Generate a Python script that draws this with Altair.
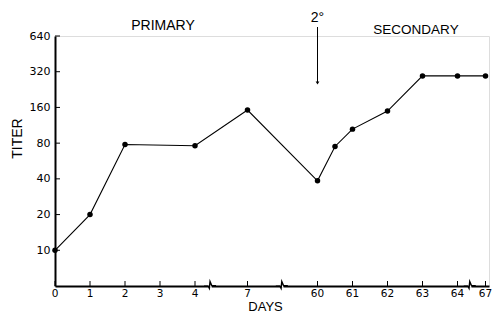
import altair as alt
import pandas as pd
import numpy as np

# broken-axis: day labels and their slot along the axis
axis_days = [0, 1, 2, 3, 4, 7, 60, 61, 62, 63, 64, 67]
axis_slots = [0, 1, 2, 3, 4, 5.5, 7.5, 8.5, 9.5, 10.5, 11.5, 12.3]
break_slots = [4.43, 6.48, 11.85]

# measured titers
days = [0, 1, 2, 4, 7, 60, 60.5, 61, 62, 63, 64, 67]
titer = [10, 20, 78, 76, 152, 38.5, 75, 105, 149, 295, 295, 295]

y_ticks = [10, 20, 40, 80, 160, 320, 640]

W, H = 434, 250
FONT = "Liberation Sans"
LFONT = "DejaVu Sans"

slot_of = dict(zip(axis_days, axis_slots))
def to_slot(d):
    if d in slot_of:
        return slot_of[d]
    return float(np.interp(d, axis_days[6:], axis_slots[6:]))

df = pd.DataFrame({"slot": [to_slot(d) for d in days], "titer": titer})
ticks_df = pd.DataFrame({"slot": axis_slots, "label": [str(d) for d in axis_days]})
yt_df = pd.DataFrame({"v": y_ticks})
br_df = pd.DataFrame({"slot": break_slots})

xs = alt.Scale(domain=[0, 12.4], nice=False, zero=False)
ys = alt.Scale(type="log", base=2, domain=[5, 640], nice=False)

base = alt.Chart(df)

line = base.mark_line(color="black", strokeWidth=1.1).encode(
    x=alt.X("slot:Q", scale=xs,
            axis=alt.Axis(title="DAYS", labels=False, ticks=False, grid=False,
                          domainColor="black", domainWidth=2,
                          titleFont=FONT, titleFontSize=13, titleFontWeight="normal",
                          titleX=210, titleY=27, titleBaseline="bottom", titleColor="black")),
    y=alt.Y("titer:Q", scale=ys,
            axis=alt.Axis(title="TITER", values=y_ticks, format="d", ticks=False, tickSize=0,
                          grid=False, labelPadding=5, domainColor="black", domainWidth=2,
                          labelFont=LFONT, labelFontSize=11, labelColor="black",
                          titleFont=FONT, titleFontSize=14, titleFontWeight="normal",
                          titleX=-31, titleY=102, titleBaseline="bottom", titleColor="black")),
)
pts = base.mark_point(filled=True, color="black", size=30, opacity=1).encode(
    x=alt.X("slot:Q", scale=xs), y=alt.Y("titer:Q", scale=ys))

ytick = alt.Chart(yt_df).mark_rule(color="black", strokeWidth=1).encode(
    x=alt.value(0), x2=alt.value(5), y=alt.Y("v:Q", scale=ys))

xtick = alt.Chart(ticks_df).mark_rule(color="black", strokeWidth=1).encode(
    x=alt.X("slot:Q", scale=xs), y=alt.value(H), y2=alt.value(H - 5))

xlab = alt.Chart(ticks_df).mark_text(font=LFONT, fontSize=10.5, baseline="top", color="black").encode(
    x=alt.X("slot:Q", scale=xs), y=alt.value(H + 3), text="label:N")

gap = alt.Chart(br_df).mark_point(
    shape="M-0.3,-0.3 L0.3,-0.3 L0.3,0.3 L-0.3,0.3 Z", filled=True, color="white", opacity=1, size=144
).encode(x=alt.X("slot:Q", scale=xs), y=alt.value(H))

zig = alt.Chart(br_df).mark_point(
    shape="M-1,0.05 L-0.3,0.05 L-0.12,0.4 L0,-0.75 L0.3,-0.05 L1,-0.05", filled=False, color="black",
    strokeWidth=1.4, opacity=1, size=144
).encode(x=alt.X("slot:Q", scale=xs), y=alt.value(H))

arrow_df = pd.DataFrame({"slot": [to_slot(60)]})
arrow = alt.Chart(arrow_df).mark_rule(color="black", strokeWidth=1).encode(
    x=alt.X("slot:Q", scale=xs), y=alt.value(-9), y2=alt.value(47))
head = alt.Chart(arrow_df).mark_point(shape="triangle-down", filled=True, color="black",
                                      opacity=1, size=14).encode(
    x=alt.X("slot:Q", scale=xs), y=alt.value(47))
deg = alt.Chart(arrow_df).mark_text(font=FONT, fontSize=14, color="black").encode(
    x=alt.X("slot:Q", scale=xs), y=alt.value(-18), text=alt.value("2°"))

prim = alt.Chart(arrow_df).mark_text(font=FONT, fontSize=14, color="black").encode(
    x=alt.value(108), y=alt.value(-10), text=alt.value("PRIMARY"))
sec = alt.Chart(arrow_df).mark_text(font=FONT, fontSize=13.5, color="black").encode(
    x=alt.value(361), y=alt.value(-6), text=alt.value("SECONDARY"))

chart = alt.layer(line, ytick, xtick, xlab, gap, zig, pts, arrow, head, deg, prim, sec).properties(
    width=W, height=H,
    autosize=alt.AutoSizeParams(type="none"),
    padding={"left": 47, "top": 28, "right": 4, "bottom": 28},
).configure_view(stroke=None).configure(background="white")

chart.save("out.html", embed_options={"renderer": "svg", "actions": False})
